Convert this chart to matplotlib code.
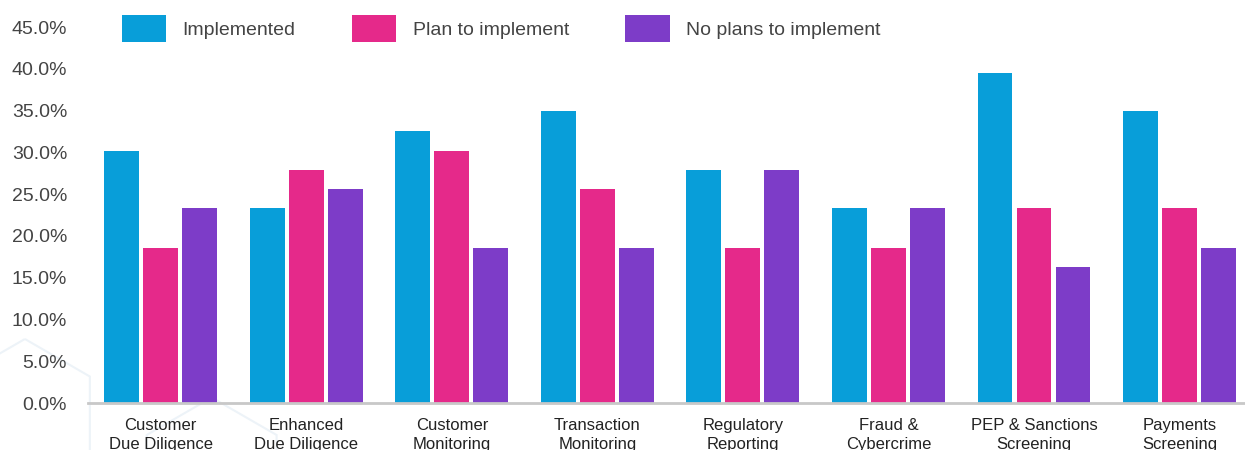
import numpy as np
import matplotlib.pyplot as plt
from matplotlib.patches import RegularPolygon

categories = ["Customer\nDue Diligence", "Enhanced\nDue Diligence",
              "Customer\nMonitoring", "Transaction\nMonitoring",
              "Regulatory\nReporting", "Fraud &\nCybercrime",
              "PEP & Sanctions\nScreening", "Payments\nScreening"]
series = ["Implemented", "Plan to implement", "No plans to implement"]
implemented = [30.2, 23.3, 32.6, 34.9, 27.9, 23.3, 39.5, 34.9]
plan = [18.6, 27.9, 30.2, 25.6, 18.6, 18.6, 23.3, 23.3]
no_plans = [23.3, 25.6, 18.6, 18.6, 27.9, 23.3, 16.3, 18.6]
colors = ["#089ed9", "#e5298a", "#7d3cc8"]

plt.rcParams["font.family"] = ["Liberation Sans", "DejaVu Sans"]

fig = plt.figure(figsize=(12.45, 4.5), dpi=100)

# faint hexagon pattern in the lower left corner
for cx, cy in [(0.02, 0.08), (0.17, -0.05)]:
    hexa = RegularPolygon((cx * 12.45, cy * 4.5), 6, radius=0.75,
                          orientation=0, fill=False,
                          edgecolor="#edf3f8", lw=1.5,
                          transform=fig.dpi_scale_trans, zorder=-1)
    fig.patches.append(hexa)

ax = fig.add_axes([88 / 1245, 47 / 450, 1157 / 1245, 376 / 450])
ax.patch.set_alpha(0)

x = np.arange(len(categories))
w = 0.24
step = 0.268
for i, (vals, name) in enumerate(zip([implemented, plan, no_plans], series)):
    ax.bar(x + (i - 1) * step, vals, width=w, color=colors[i], label=name,
           zorder=2)

ax.set_xlim(-0.5, 7.45)
ax.set_ylim(0, 45)
ax.set_yticks(np.arange(0, 46, 5))
ax.set_yticklabels([f"{v:.1f}%" for v in np.arange(0, 46, 5)])
ax.set_xticks(x)
ax.set_xticklabels(categories, fontsize=12, color="#222222", linespacing=1.3)

for s in ["top", "right", "left"]:
    ax.spines[s].set_visible(False)
ax.spines["bottom"].set_color("#c8c8c8")
ax.spines["bottom"].set_linewidth(2)
ax.tick_params(axis="y", length=0, pad=15, labelsize=14, labelcolor="#444444")
ax.tick_params(axis="x", length=0, pad=11)

fig.legend(loc="center left", bbox_to_anchor=(122 / 1245, 1 - 28.5 / 450),
           ncol=3, frameon=False, fontsize=14, labelcolor="#444444",
           handlelength=2.27, handleheight=1.7, handletextpad=0.85,
           columnspacing=2.9, borderpad=0, borderaxespad=0)

fig.savefig("out.png", dpi=100)
